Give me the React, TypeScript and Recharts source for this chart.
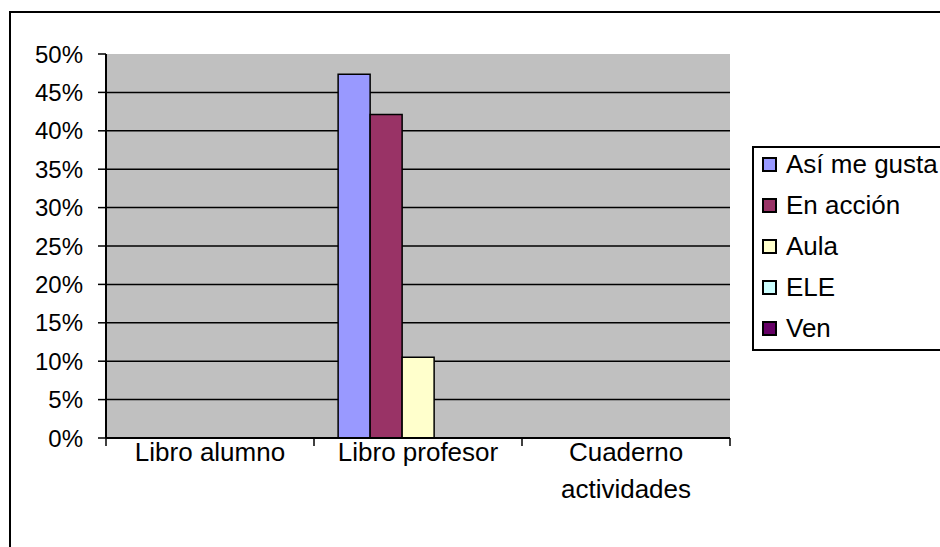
import { Bar, BarChart, CartesianGrid, Legend, XAxis, YAxis } from "recharts";

const FONT = '"Liberation Sans", Arial, sans-serif';
const TICK_SIZE = 24;
const LABEL_SIZE = 26;

// Share of answers per material and textbook
const categories = ["Libro alumno", "Libro profesor", "Cuaderno actividades"];
const asiMeGusta = [0, 0.4737, 0];
const enAccion = [0, 0.4211, 0];
const aula = [0, 0.1053, 0];
const ele = [0, 0, 0];
const ven = [0, 0, 0];

const yTicks = [0, 0.05, 0.1, 0.15, 0.2, 0.25, 0.3, 0.35, 0.4, 0.45, 0.5];

const series = [
  { key: "asi", name: "Así me gusta", color: "#9999FF", values: asiMeGusta },
  { key: "accion", name: "En acción", color: "#993366", values: enAccion },
  { key: "aula", name: "Aula", color: "#FFFFCC", values: aula },
  { key: "ele", name: "ELE", color: "#CCFFFF", values: ele },
  { key: "ven", name: "Ven", color: "#660066", values: ven },
];

const data = categories.map((name, i) => {
  const row: Record<string, string | number> = { name };
  series.forEach((s) => {
    row[s.key] = s.values[i];
  });
  return row;
});

let measureCtx: CanvasRenderingContext2D | null = null;

function textWidth(str: string): number {
  if (!measureCtx) {
    measureCtx = document.createElement("canvas").getContext("2d");
  }
  if (!measureCtx) return str.length * LABEL_SIZE * 0.55;
  measureCtx.font = `${LABEL_SIZE}px ${FONT}`;
  return measureCtx.measureText(str).width;
}

// Greedy word wrap so long category names break inside their band
function wrapLabel(label: string, maxWidth: number): string[] {
  const lines: string[] = [];
  let current = "";
  label.split(" ").forEach((word) => {
    const next = current ? `${current} ${word}` : word;
    if (current && textWidth(next) > maxWidth) {
      lines.push(current);
      current = word;
    } else {
      current = next;
    }
  });
  if (current) lines.push(current);
  return lines;
}

// Category label centred in its band, with tick marks on the band edges
function CategoryTick(props: any) {
  const { x, y, width, index, payload } = props;
  const band = width / categories.length;
  const left = x - band / 2;
  const isLast = index === categories.length - 1;
  const lines = wrapLabel(String(payload.value), band - 10);
  return (
    <g>
      <line x1={left} y1={y} x2={left} y2={y + 8} stroke="#000" strokeWidth={1.5} />
      {isLast && <line x1={left + band} y1={y} x2={left + band} y2={y + 8} stroke="#000" strokeWidth={1.5} />}
      <text x={x} y={y + 23} textAnchor="middle" fill="#000" style={{ fontSize: LABEL_SIZE, fontFamily: FONT }}>
        {lines.map((line, i) => (
          <tspan key={i} x={x} dy={i === 0 ? 0 : 37}>
            {line}
          </tspan>
        ))}
      </text>
    </g>
  );
}

function LegendBox() {
  return (
    <div
      style={{
        position: "relative",
        boxSizing: "border-box",
        width: 200,
        height: 205,
        border: "2px solid #000",
        background: "#fff",
        fontFamily: FONT,
        fontSize: LABEL_SIZE,
        color: "#000",
      }}
    >
      {series.map((s, i) => (
        <div
          key={s.key}
          style={{
            position: "absolute",
            left: 8,
            top: -2 + i * 41,
            height: 36,
            display: "flex",
            alignItems: "center",
            whiteSpace: "nowrap",
          }}
        >
          <span
            style={{
              display: "inline-block",
              boxSizing: "border-box",
              width: 15,
              height: 15,
              background: s.color,
              border: "2px solid #000",
              marginRight: 9,
            }}
          />
          <span>{s.name}</span>
        </div>
      ))}
    </div>
  );
}

export default function App() {
  return (
    <div
      style={{
        position: "fixed",
        left: 0,
        top: 0,
        width: 940,
        height: 547,
        overflow: "hidden",
        background: "#fff",
        fontFamily: FONT,
      }}
    >
      <div
        style={{
          position: "absolute",
          left: 9,
          top: 11,
          width: 1000,
          height: 600,
          borderLeft: "2px solid #000",
          borderTop: "2px solid #000",
        }}
      />
      <BarChart
        width={940}
        height={547}
        data={data}
        margin={{ top: 54, right: 210, bottom: 39, left: 46 }}
        barCategoryGap="11.6%"
        barGap={0}
      >
        <CartesianGrid
          vertical={false}
          horizontalValues={yTicks.slice(0, -1)}
          stroke="#000"
          strokeWidth={1.5}
          fill="#C0C0C0"
          fillOpacity={1}
        />
        <XAxis
          dataKey="name"
          height={70}
          interval={0}
          axisLine={{ stroke: "#000", strokeWidth: 2 }}
          tickLine={false}
          tickSize={0}
          tickMargin={0}
          tick={<CategoryTick />}
        />
        <XAxis
          xAxisId="top"
          dataKey="name"
          orientation="top"
          height={0}
          axisLine={{ stroke: "#808080", strokeWidth: 2 }}
          tick={false}
          tickLine={false}
        />
        <YAxis
          width={60}
          domain={[0, 0.5]}
          ticks={yTicks}
          interval={0}
          tickFormatter={(v: number) => `${Math.round(v * 100)}%`}
          axisLine={{ stroke: "#000", strokeWidth: 2 }}
          tickLine={{ stroke: "#000", strokeWidth: 1.5 }}
          tickSize={8}
          tickMargin={15}
          tick={{ fill: "#000", fontSize: TICK_SIZE, fontFamily: FONT }}
        />
        <YAxis
          yAxisId="right"
          orientation="right"
          width={0}
          domain={[0, 0.5]}
          axisLine={{ stroke: "#808080", strokeWidth: 2 }}
          tick={false}
          tickLine={false}
        />
        <Legend
          layout="vertical"
          align="center"
          verticalAlign="middle"
          wrapperStyle={{ left: 752, top: 146, width: 200, height: 205 }}
          content={<LegendBox />}
        />
        {series.map((s) => (
          <Bar
            key={s.key}
            dataKey={s.key}
            name={s.name}
            fill={s.color}
            stroke="#000"
            strokeWidth={1.5}
            isAnimationActive={false}
          />
        ))}
      </BarChart>
    </div>
  );
}
